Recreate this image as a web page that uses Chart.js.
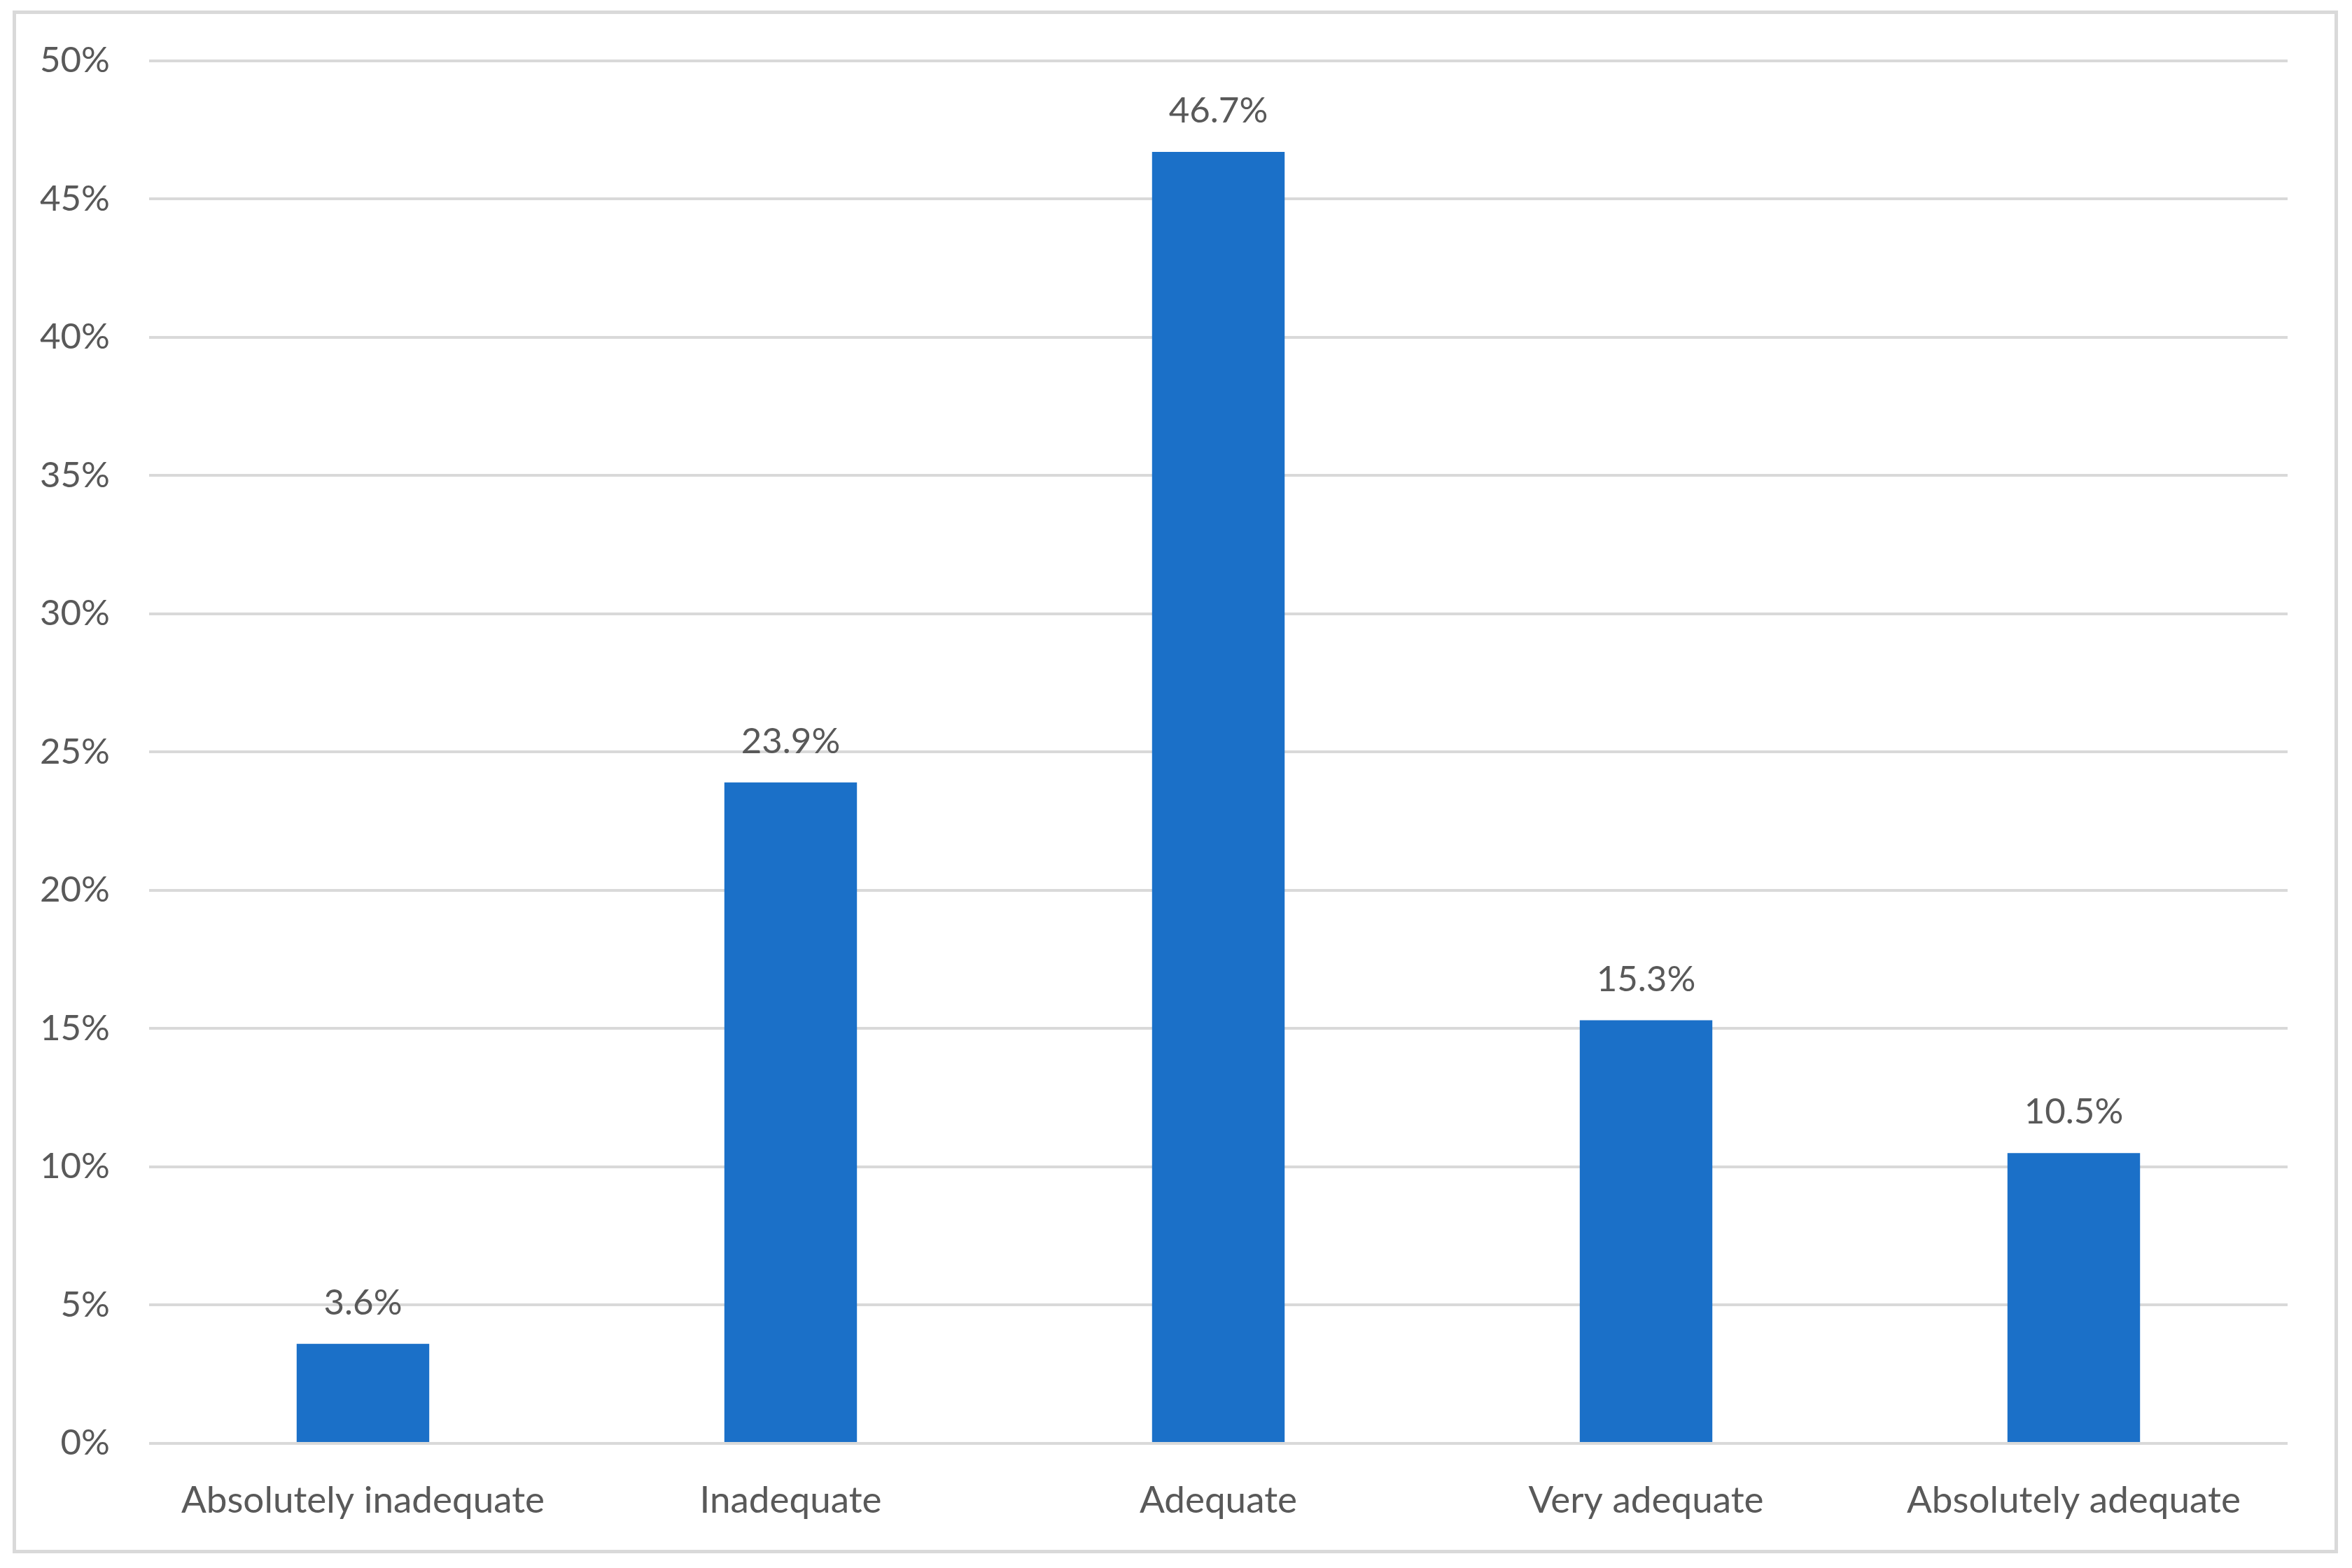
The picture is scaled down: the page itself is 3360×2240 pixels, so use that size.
<!DOCTYPE html>
<html>
<head>
<meta charset="utf-8">
<script src="https://cdn.jsdelivr.net/npm/chart.js@4"></script>
<style>
  html, body { margin: 0; padding: 0; background: #fff; }
  #wrap { position: absolute; left: 0; top: 0; width: 3360px; height: 2240px; }
  #frame { position: absolute; left: 18px; top: 15px; width: 3312px; height: 2194px; border: 5px solid #d9d9d9; }
</style>
</head>
<body>
<div id="frame"></div>
<div id="wrap"><canvas id="myChart" width="3360" height="2240"></canvas></div>
<script>
// categorias e valores (%)
const categorias = ['Absolutely inadequate', 'Inadequate', 'Adequate', 'Very adequate', 'Absolutely adequate'];
const valores = [3.6, 23.9, 46.7, 15.3, 10.5];
const ticksY = [0, 5, 10, 15, 20, 25, 30, 35, 40, 45, 50];

const corTexto = '#595959';
const fonte = "Lato, 'Open Sans', sans-serif";

// rótulos em cima das barras
const rotulos = {
    id: 'rotulos',
    afterDatasetsDraw(chart) {
        const ctx = chart.ctx;
        const meta = chart.getDatasetMeta(0);
        ctx.save();
        ctx.fillStyle = corTexto;
        ctx.font = '51px ' + fonte;
        ctx.textAlign = 'center';
        ctx.textBaseline = 'alphabetic';
        meta.data.forEach((barra, i) => {
            ctx.fillText(valores[i].toFixed(1) + '%', barra.x, barra.y - 42);
        });
        ctx.restore();
    }
};

const ctx = document.getElementById('myChart');

new Chart(ctx, {
    type: 'bar',
    data: {
        labels: categorias,
        datasets: [{
            data: valores,
            backgroundColor: '#1b70c8',
            borderWidth: 0,
            barPercentage: 1,
            categoryPercentage: 0.31
        }]
    },
    options: {
        responsive: false,
        animation: false,
        layout: { padding: { top: 82, right: 92, left: 0, bottom: 0 } },
        plugins: {
            legend: { display: false },
            tooltip: { enabled: false }
        },
        scales: {
            x: {
                grid: { display: false, drawTicks: false },
                border: { display: false },
                ticks: {
                    color: corTexto,
                    font: { family: fonte, size: 53 },
                    padding: 50,
                    maxRotation: 0
                },
                afterFit(scale) { scale.height = 178; }
            },
            y: {
                min: 0,
                max: 50,
                afterBuildTicks(scale) { scale.ticks = ticksY.map(v => ({ value: v })); },
                grid: { color: '#d9d9d9', lineWidth: 4, drawTicks: false },
                border: { display: false },
                ticks: {
                    color: corTexto,
                    font: { family: fonte, size: 51 },
                    padding: 56,
                    callback: v => v + '%'
                },
                afterFit(scale) { scale.width = 213; }
            }
        }
    },
    plugins: [rotulos]
});
</script>
</body>
</html>
